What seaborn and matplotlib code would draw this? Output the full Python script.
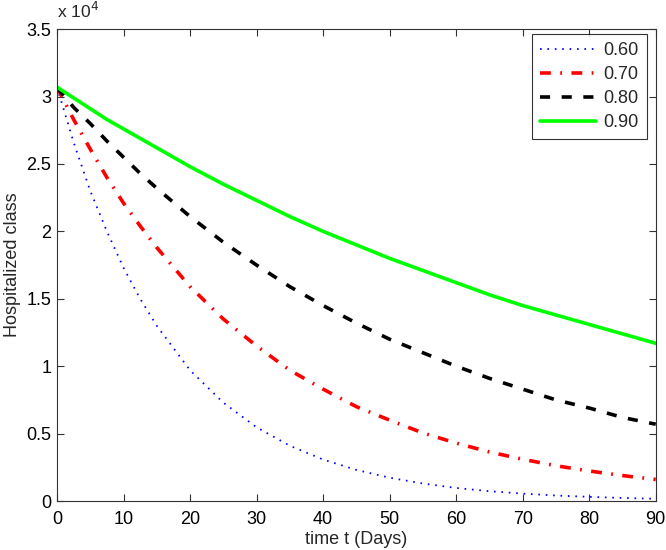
import numpy as np
import pandas as pd
import matplotlib
matplotlib.use("Agg")
import matplotlib.pyplot as plt
import seaborn as sns
from matplotlib.ticker import FuncFormatter, MultipleLocator

days = [0, 2.5, 5, 7.5, 10, 12.5, 15, 20, 25, 30, 35, 40, 45, 50, 55, 60, 65, 70, 75,
        80, 85, 90]
h060 = [30700, 26600, 23000, 20000, 17300, 15000, 13000, 9700, 7300, 5470, 4100, 3080,
        2310, 1730, 1300, 970, 730, 550, 410, 310, 230, 170]
h070 = [30700, 28300, 26100, 24000, 22100, 20400, 18800, 15900, 13500, 11500, 9700,
        8300, 7000, 6000, 5050, 4300, 3640, 3100, 2620, 2230, 1890, 1600]
h080 = [30650, 29200, 28000, 26700, 25500, 24300, 23200, 21100, 19200, 17500, 15900,
        14500, 13200, 12000, 11000, 10000, 9100, 8300, 7500, 6900, 6200, 5700]
h090 = [30700, 29900, 29100, 28300, 27600, 26900, 26200, 24800, 23500, 22300, 21100,
        20000, 19000, 18000, 17100, 16200, 15300, 14500, 13800, 13100, 12400, 11700]
labels = ["0.60", "0.70", "0.80", "0.90"]

sns.set_style("ticks")
plt.rcParams['font.family'] = ['Liberation Sans', 'DejaVu Sans']

fig = plt.figure(figsize=(6.66, 5.5), dpi=100)
ax = fig.add_axes([0.0856, 0.089, 0.899, 0.858])

styles = [
    (h060, labels[0], (0, 0, 1), (0, (0.9, 3.2)), 1.3),
    (h070, labels[1], (1, 0, 0), (0, (3.0, 2.6, 0.5, 2.6)), 2.6),
    (h080, labels[2], (0, 0, 0), (0, (2.8, 3.2)), 2.6),
    (h090, labels[3], (0, 1, 0), '-', 2.6),
]
for vals, lab, col, ls, lw in styles:
    sns.lineplot(x=days, y=vals, ax=ax, color=col, linestyle=ls, linewidth=lw, label=lab)

ax.set_xlim(0, 90)
ax.set_ylim(0, 35000)
ax.xaxis.set_major_locator(MultipleLocator(10))
ax.yaxis.set_major_locator(MultipleLocator(5000))
ax.yaxis.set_major_formatter(FuncFormatter(lambda v, p: f"{v/1e4:g}"))
ax.tick_params(direction='in', length=5, width=0.8, top=True, right=True,
               labelsize=13, colors='#333333', labelcolor='black')
ax.tick_params(axis='x', pad=7)
ax.tick_params(axis='y', pad=4)
for s in ax.spines.values():
    s.set_visible(True)
    s.set_color('#333333')
    s.set_linewidth(0.8)

ax.set_xlabel("time t (Days)", fontsize=13, labelpad=2)
ax.set_ylabel("Hospitalized class", fontsize=13, labelpad=4)
ax.text(0.0, 1.018, r"x 10$^{4}$", transform=ax.transAxes, fontsize=12.5,
        ha='left', va='bottom')

leg = ax.legend(loc='upper right', bbox_to_anchor=(0.985, 0.989), borderaxespad=0,
                frameon=True, fancybox=False, edgecolor='black', fontsize=13,
                handlelength=3.1, handletextpad=0.4, borderpad=0.45,
                labelspacing=0.38)
leg.get_frame().set_linewidth(0.8)

fig.savefig("out.png", dpi=100)
